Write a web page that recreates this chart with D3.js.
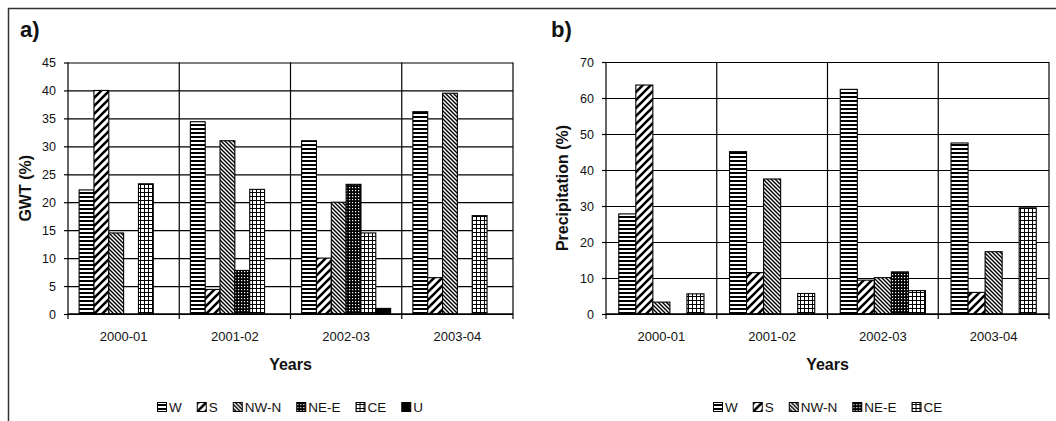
<!DOCTYPE html>
<html><head><meta charset="utf-8">
<script src="https://cdn.jsdelivr.net/npm/d3@7"></script>
<style>
body{margin:0;background:#fff}
svg{display:block;font-family:"Liberation Sans",Arial,sans-serif}
</style>
</head><body>
<svg id="c" width="1056" height="421"></svg>
<script>
// ---------- data ----------
const years = ["2000-01", "2001-02", "2002-03", "2003-04"];
const seriesA = ["W", "S", "NW-N", "NE-E", "CE", "U"];
const seriesB = ["W", "S", "NW-N", "NE-E", "CE"];

// a) GWT (%)
const gwtW   = [22.2, 34.4, 31.0, 36.2];
const gwtS   = [40.0, 4.4, 10.0, 6.5];
const gwtNWN = [14.5, 31.0, 20.0, 39.5];
const gwtNEE = [0, 7.8, 23.2, 0];
const gwtCE  = [23.3, 22.3, 14.5, 17.6];
const gwtU   = [0, 0, 1.0, 0];

// b) Precipitation (%)
const precW   = [27.8, 45.1, 62.4, 47.5];
const precS   = [63.6, 11.5, 9.4, 6.0];
const precNWN = [3.3, 37.5, 10.1, 17.3];
const precNEE = [0, 0, 11.7, 0];
const precCE  = [5.6, 5.7, 6.5, 29.5];

const gwtTicks  = [0, 5, 10, 15, 20, 25, 30, 35, 40, 45];
const precTicks = [0, 10, 20, 30, 40, 50, 60, 70];

// ---------- setup ----------
const svg = d3.select("#c");
const defs = svg.append("defs");
function pat(id, w, h, build) {
  const p = defs.append("pattern").attr("id", id).attr("patternUnits", "userSpaceOnUse")
    .attr("width", w).attr("height", h);
  p.append("rect").attr("width", w).attr("height", h).attr("fill", "#fff");
  build(p);
}
pat("pW", 4, 4, p => p.append("rect").attr("width", 4).attr("height", 2).attr("fill", "#000"));
pat("pS", 8, 8, p => p.append("path").attr("d", "M-1,9 L9,-1 M-1,1 L1,-1 M7,9 L9,7")
  .attr("stroke", "#000").attr("stroke-width", 2.6));
pat("pNWN", 4, 4, p => p.append("path").attr("d", "M-1,-1 L5,5 M-1,3 L1,5 M3,-1 L5,1")
  .attr("stroke", "#000").attr("stroke-width", 1.4));
pat("pNEE", 3, 3, p => {
  p.append("rect").attr("width", 3).attr("height", 3).attr("fill", "#000");
  p.append("rect").attr("x", 1).attr("y", 1).attr("width", 1.2).attr("height", 1.2).attr("fill", "#fff");
});
pat("pCE", 4, 4, p => {
  p.append("rect").attr("width", 4).attr("height", 1).attr("fill", "#000");
  p.append("rect").attr("width", 1).attr("height", 4).attr("fill", "#000");
});
const fills = {"W": "url(#pW)", "S": "url(#pS)", "NW-N": "url(#pNWN)", "NE-E": "url(#pNEE)", "CE": "url(#pCE)", "U": "#000"};

// outer frame (top and left)
svg.append("path").attr("d", "M8.5,421 V8.5 H1056").attr("fill", "none")
  .attr("stroke", "#333").attr("stroke-width", 1.5);

const panels = [
  {label: "a)", lx: 20, title: "GWT (%)", tx: 25, x0: 68, x1: 513, yt: 62.5, yb: 314, max: 45,
   ticks: gwtTicks, series: seriesA, values: [gwtW, gwtS, gwtNWN, gwtNEE, gwtCE, gwtU]},
  {label: "b)", lx: 551, title: "Precipitation (%)", tx: 562, x0: 606, x1: 1049, yt: 62, yb: 314, max: 70,
   ticks: precTicks, series: seriesB, values: [precW, precS, precNWN, precNEE, precCE]}
];

panels.forEach(P => {
  const g = svg.append("g");
  const x = d3.scaleBand().domain(years).range([P.x0, P.x1]).paddingInner(0).paddingOuter(0);
  const xs = d3.scaleBand().domain(P.series).range([0, x.bandwidth()]).paddingInner(0).paddingOuter(0.75);
  const y = d3.scaleLinear().domain([0, P.max]).range([P.yb, P.yt]);

  // panel letter
  g.append("text").attr("x", P.lx).attr("y", 36.5).attr("font-size", 22).attr("font-weight", "bold")
    .attr("fill", "#111").text(P.label);

  // horizontal gridlines
  const grid = g.append("g").attr("transform", `translate(${P.x0},0)`)
    .call(d3.axisLeft(y).tickValues(P.ticks).tickSize(-(P.x1 - P.x0)).tickFormat(""));
  grid.select(".domain").remove();
  grid.selectAll("line").attr("stroke", "#000").attr("stroke-width", 1.2);

  // y axis ticks + labels
  const ya = g.append("g").attr("transform", `translate(${P.x0},0)`)
    .call(d3.axisLeft(y).tickValues(P.ticks).tickSize(4).tickPadding(8).tickSizeOuter(0));
  ya.select(".domain").remove();
  ya.selectAll("line").attr("stroke", "#000").attr("stroke-width", 1.2);
  ya.selectAll("text").attr("font-size", 12.5).attr("fill", "#111")
    .attr("font-family", "'Liberation Sans', Arial, sans-serif");

  // vertical category boundaries (with tick extension below axis)
  const bounds = years.map(c => x(c)).concat([P.x1]);
  g.append("g").selectAll("line").data(bounds).join("line")
    .attr("x1", d => d).attr("x2", d => d).attr("y1", P.yt).attr("y2", P.yb + 5)
    .attr("stroke", "#000").attr("stroke-width", 1.2);

  // bars
  P.series.forEach((s, si) => {
    g.append("g").selectAll("rect").data(P.values[si].map((v, i) => ({c: years[i], v})).filter(d => d.v > 0))
      .join("rect")
      .attr("x", d => x(d.c) + xs(s))
      .attr("width", xs.bandwidth())
      .attr("y", d => y(d.v))
      .attr("height", d => y(0) - y(d.v))
      .attr("fill", fills[s]).attr("stroke", "#000").attr("stroke-width", 1.1);
  });

  // bottom axis line
  g.append("line").attr("x1", P.x0).attr("x2", P.x1).attr("y1", P.yb).attr("y2", P.yb)
    .attr("stroke", "#000").attr("stroke-width", 1.3);

  // x labels
  const xa = g.append("g").attr("transform", `translate(0,${P.yb})`)
    .call(d3.axisBottom(x).tickSize(0).tickPadding(18));
  xa.select(".domain").remove();
  xa.selectAll("text").attr("font-size", 13).attr("fill", "#111")
    .attr("font-family", "'Liberation Sans', Arial, sans-serif");

  // axis titles
  const cx = (P.x0 + P.x1) / 2;
  g.append("text").attr("x", cx).attr("y", 370).attr("text-anchor", "middle")
    .attr("font-size", 16).attr("font-weight", "bold").attr("fill", "#111").text("Years");
  g.append("text").attr("transform", `translate(${P.tx},${(P.yt + P.yb) / 2}) rotate(-90)`)
    .attr("text-anchor", "middle").attr("dy", "0.35em")
    .attr("font-size", 16).attr("font-weight", "bold").attr("fill", "#111").text(P.title);

  // legend
  const lg = g.append("g");
  let cur = 0;
  P.series.forEach(s => {
    const it = lg.append("g");
    it.append("rect").attr("x", 0.5).attr("y", -9.5).attr("width", 9).attr("height", 9)
      .attr("fill", fills[s]).attr("stroke", "#000").attr("stroke-width", 1);
    const t = it.append("text").attr("x", 12).attr("y", 0).attr("font-size", 13.5)
      .attr("fill", "#111").text(s);
    const w = 12 + t.node().getComputedTextLength();
    it.attr("transform", `translate(${cur},0)`);
    cur += w + 15;
  });
  const total = cur - 15;
  lg.attr("transform", `translate(${Math.round(cx - total / 2)},412)`);
});
</script>
</body></html>
